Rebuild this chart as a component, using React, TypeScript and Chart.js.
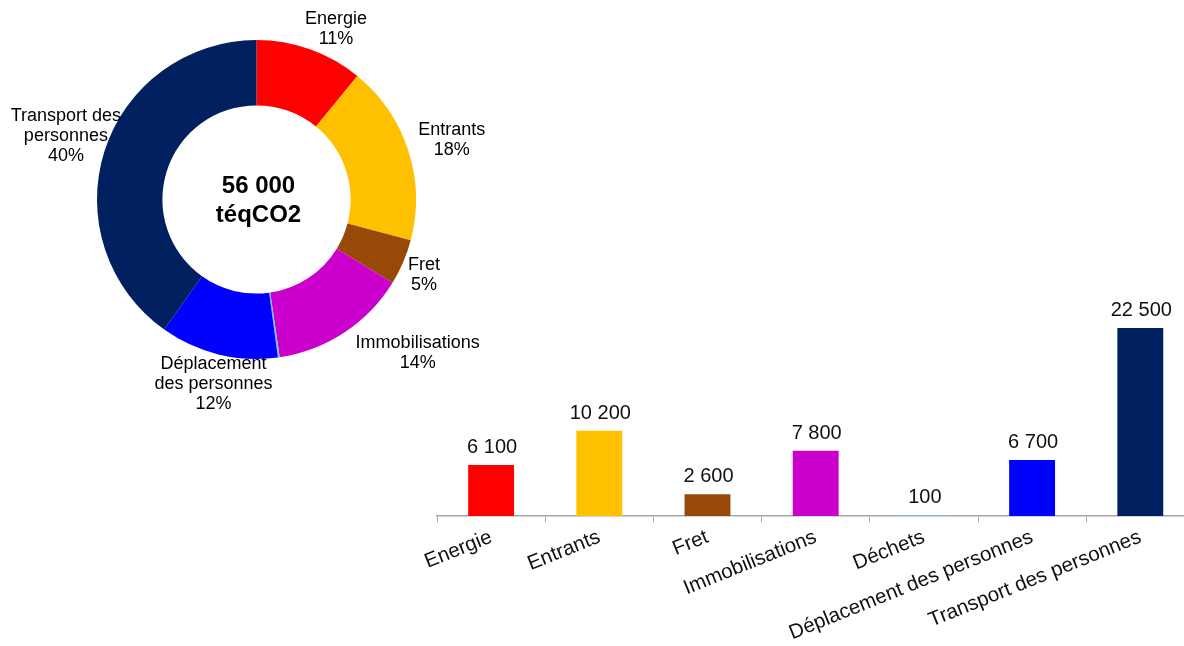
import React, { useEffect, useRef } from 'react';
import { Chart, registerables } from 'chart.js';

Chart.register(...registerables);

const categories = [
  'Energie',
  'Entrants',
  'Fret',
  'Immobilisations',
  'Déchets',
  'Déplacement des personnes',
  'Transport des personnes',
];
const values = [6100, 10200, 2600, 7800, 100, 6700, 22500];
const colors = ['#FF0000', '#FFC000', '#984807', '#CC00CC', '#66CCFF', '#0000FF', '#002060'];
const donutLabelLines: string[][] = [
  ['Energie'],
  ['Entrants'],
  ['Fret'],
  ['Immobilisations'],
  [],
  ['Déplacement', 'des personnes'],
  ['Transport des', 'personnes'],
];
const totalLines = ['56 000', 'téqCO2'];
const yMax = 25000;

const FONT = '"Liberation Sans", Arial, Helvetica, sans-serif';

const fmt = (v: number) => v.toString().replace(/\B(?=(\d{3})+(?!\d))/g, ' ');
const clamp = (v: number) => Math.max(-1, Math.min(1, v));

const donutLabels = {
  id: 'donutLabels',
  afterDraw(chart: any) {
    const ctx = chart.ctx;
    const meta = chart.getDatasetMeta(0);
    const total = values.reduce((a, b) => a + b, 0);
    const lineH = 20;
    const gap = 0;
    ctx.save();
    ctx.font = `18px ${FONT}`;
    ctx.fillStyle = '#000';
    ctx.textAlign = 'center';
    ctx.textBaseline = 'middle';
    meta.data.forEach((arc: any, i: number) => {
      const lines = donutLabelLines[i];
      if (!lines || !lines.length) return;
      const pct = Math.round((values[i] / total) * 100) + '%';
      const all = [...lines, pct];
      const p = arc.getProps(['x', 'y', 'startAngle', 'endAngle', 'outerRadius'], true);
      const mid = (p.startAngle + p.endAngle) / 2;
      const ux = Math.cos(mid);
      const uy = Math.sin(mid);
      const w = Math.max(...all.map((t) => ctx.measureText(t).width)) / 2;
      const h = (all.length * lineH) / 2;
      const r = p.outerRadius + gap;
      const cx = p.x + ux * r + w * clamp(1.6 * ux) + 0.3 * w;
      const cy = p.y + uy * r + h * clamp(1.6 * uy);
      all.forEach((t, j) => ctx.fillText(t, cx, cy - h + lineH * (j + 0.5)));
    });
    const a0 = meta.data[0];
    if (a0) {
      ctx.font = `bold 24px ${FONT}`;
      ctx.fillStyle = '#000';
      ctx.fillText(totalLines[0], a0.x + 2, a0.y - 13);
      ctx.fillText(totalLines[1], a0.x + 2, a0.y + 16);
    }
    ctx.restore();
  },
};

const barLabels = {
  id: 'barLabels',
  afterDatasetsDraw(chart: any) {
    const ctx = chart.ctx;
    const meta = chart.getDatasetMeta(0);
    ctx.save();
    ctx.font = `20px ${FONT}`;
    ctx.fillStyle = '#111';
    ctx.textAlign = 'center';
    ctx.textBaseline = 'alphabetic';
    meta.data.forEach((bar: any, i: number) => {
      ctx.fillText(fmt(values[i]), bar.x + 1, bar.y - 12);
    });
    ctx.restore();
  },
};

export default function App() {
  const donutRef = useRef<HTMLCanvasElement>(null);
  const barRef = useRef<HTMLCanvasElement>(null);

  useEffect(() => {
    const donut = new Chart(donutRef.current as HTMLCanvasElement, {
      type: 'doughnut',
      data: {
        labels: categories,
        datasets: [
          {
            data: values,
            backgroundColor: colors,
            borderWidth: 0,
            hoverOffset: 0,
            offset: 0,
          },
        ],
      },
      options: {
        responsive: false,
        animation: false,
        cutout: '59%',
        layout: { padding: { left: 97, top: 40, right: 124, bottom: 81 } },
        plugins: { legend: { display: false }, tooltip: { enabled: false } },
      },
      plugins: [donutLabels],
    } as any);

    const bar = new Chart(barRef.current as HTMLCanvasElement, {
      type: 'bar',
      data: {
        labels: categories,
        datasets: [
          {
            data: values,
            backgroundColor: colors,
            borderWidth: 0,
            categoryPercentage: 1,
            barPercentage: 0.424,
          },
        ],
      },
      options: {
        responsive: false,
        animation: false,
        layout: { padding: { left: 37, right: 5.6, top: 47, bottom: 0 } },
        plugins: { legend: { display: false }, tooltip: { enabled: false } },
        scales: {
          x: {
            grid: {
              display: true,
              drawOnChartArea: false,
              drawTicks: true,
              tickLength: 6,
              color: '#A6A6A6',
              offset: true,
            },
            border: { display: true, color: '#A6A6A6', width: 1.5 },
            ticks: {
              minRotation: 22,
              maxRotation: 22,
              autoSkip: false,
              color: '#111',
              padding: 3,
              font: { family: FONT, size: 20.5 },
            },
            afterFit: (s: any) => {
              s.height = 130;
            },
          },
          y: { display: false, min: 0, max: yMax },
        },
      },
      plugins: [barLabels],
    } as any);

    return () => {
      donut.destroy();
      bar.destroy();
    };
  }, []);

  return (
    <div
      style={{
        position: 'fixed',
        left: 0,
        top: 0,
        width: 1184,
        height: 646,
        overflow: 'hidden',
        background: '#fff',
      }}
    >
      <canvas
        ref={donutRef}
        width={540}
        height={440}
        style={{ position: 'absolute', left: 0, top: 0, display: 'block' }}
      />
      <canvas
        ref={barRef}
        width={800}
        height={386}
        style={{ position: 'absolute', left: 400, top: 260, display: 'block' }}
      />
    </div>
  );
}
